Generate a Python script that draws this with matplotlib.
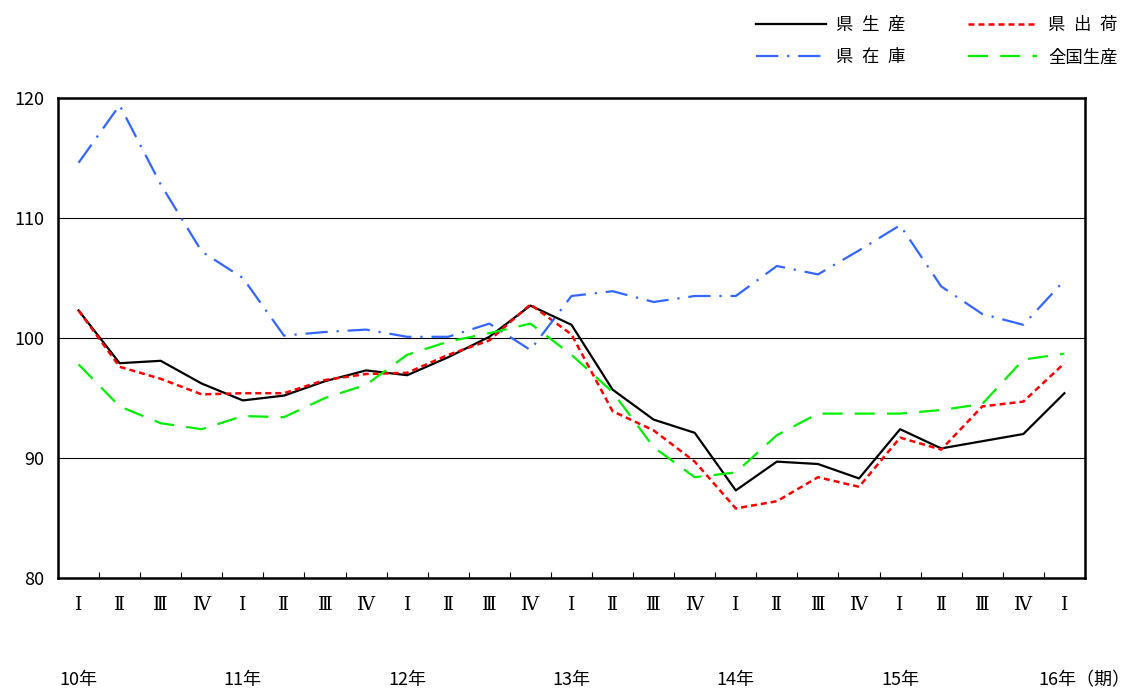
import numpy as np
import matplotlib
matplotlib.use('Agg')
import matplotlib.pyplot as plt
from matplotlib.transforms import blended_transform_factory

plt.rcParams['font.family'] = ['Noto Sans CJK JP', 'DejaVu Sans']

# 期 (quarters) 10年Ⅰ ... 16年Ⅰ
quarters = ['Ⅰ', 'Ⅱ', 'Ⅲ', 'Ⅳ'] * 6 + ['Ⅰ']
years = ['10年', '11年', '12年', '13年', '14年', '15年']
last_year = '16年（期）'

ken_seisan = [102.3, 97.9, 98.1, 96.2, 94.8, 95.2, 96.4, 97.3,
              96.9, 98.4, 100.1, 102.7, 101.1, 95.7, 93.2, 92.1,
              87.3, 89.7, 89.5, 88.3, 92.4, 90.8, 91.4, 92.0, 95.4]
ken_shukka = [102.3, 97.6, 96.6, 95.3, 95.4, 95.4, 96.5, 97.0,
              97.1, 98.6, 99.8, 102.8, 100.3, 93.9, 92.3, 89.7,
              85.8, 86.4, 88.4, 87.6, 91.7, 90.7, 94.3, 94.7, 97.9]
ken_zaiko = [114.6, 119.4, 112.8, 107.2, 105.0, 100.2, 100.5, 100.7,
             100.1, 100.1, 101.2, 99.0, 103.5, 103.9, 103.0, 103.5,
             103.5, 106.0, 105.3, 107.3, 109.4, 104.3, 102.0, 101.1, 104.8]
zenkoku_seisan = [97.8, 94.3, 92.9, 92.4, 93.5, 93.4, 95.0, 96.1,
                  98.6, 99.7, 100.4, 101.2, 98.6, 95.5, 90.9, 88.4,
                  88.8, 91.9, 93.7, 93.7, 93.7, 94.0, 94.5, 98.2, 98.7]

fig = plt.figure(figsize=(11.33, 6.91), dpi=100)
ax = fig.add_axes([0.0512, 0.1635, 0.9064, 0.6947])

x = np.arange(len(quarters))
l1, = ax.plot(x, ken_seisan, color='black', lw=1.6, label='県\u2002生\u2002産')
l2, = ax.plot(x, ken_shukka, color='#FF0000', lw=1.8, dashes=(2.4, 1.6),
              label='県\u2002出\u2002荷')
l3, = ax.plot(x, ken_zaiko, color='#3366FF', lw=1.6, dashes=(10, 4, 1, 4),
              label='県\u2002在\u2002庫')
l4, = ax.plot(x, zenkoku_seisan, color='#00EE00', lw=1.6, dashes=(9, 5.5),
              label='全国生産')

ax.set_xlim(-0.5, 24.5)
ax.set_ylim(80, 120)
ax.set_yticks([80, 90, 100, 110, 120])
ax.tick_params(axis='y', length=0, pad=10, labelsize=13)
ax.grid(axis='y', color='black', lw=0.8)

ax.set_xticks(x)
ax.set_xticklabels(quarters, family=['DejaVu Serif', 'Noto Sans CJK JP'])
ax.tick_params(axis='x', which='major', length=0, pad=13, labelsize=13.5)
ax.set_xticks(np.arange(0.5, 24, 1), minor=True)
ax.tick_params(axis='x', which='minor', direction='in', length=4.5, width=0.8)
for s in ax.spines.values():
    s.set_linewidth(1.8)

trans = blended_transform_factory(ax.transData, fig.transFigure)
for i, yr in enumerate(years):
    ax.text(i * 4, 0.016, yr, transform=trans, ha='center', va='center',
            fontsize=13)
fig.text(0.998, 0.016, last_year, ha='right', va='center', fontsize=13)

fig.legend([l1, l3, l2, l4], [l1.get_label(), l3.get_label(), l2.get_label(), l4.get_label()],
           ncol=2, loc='upper right', bbox_to_anchor=(1.0, 1.0),
           frameon=False, fontsize=12.5, handlelength=4.0, handletextpad=0.6,
           columnspacing=3.6, labelspacing=0.85)

fig.savefig('out.png', dpi=100)
